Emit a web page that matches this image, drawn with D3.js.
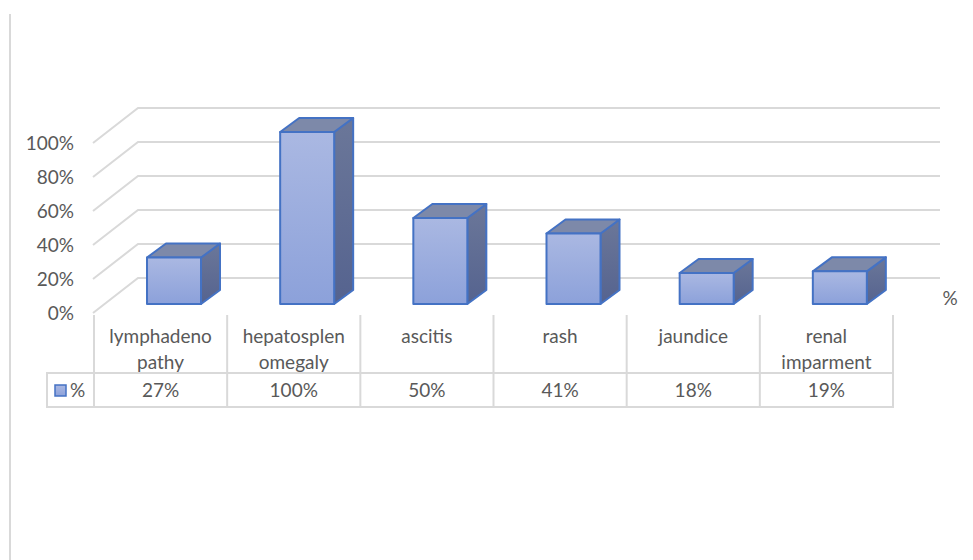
<!DOCTYPE html>
<html>
<head>
<meta charset="utf-8">
<script src="https://cdn.jsdelivr.net/npm/d3@7"></script>
<style>
  body { margin: 0; background: #fff; }
  svg text { font-family: Lato, "Open Sans", sans-serif; fill: #595959; }
</style>
</head>
<body>
<svg id="chart" width="973" height="560"></svg>
<script>
var categories = ["lymphadenopathy", "hepatosplenomegaly", "ascitis", "rash", "jaundice", "renal imparment"];
var catLines = [["lymphadeno", "pathy"], ["hepatosplen", "omegaly"], ["ascitis"], ["rash"], ["jaundice"], ["renal", "imparment"]];
var values = [0.27, 1.00, 0.50, 0.41, 0.18, 0.19];
var valueLabels = ["27%", "100%", "50%", "41%", "18%", "19%"];
var yTicks = [0, 0.2, 0.4, 0.6, 0.8, 1.0];
var seriesName = "%";

function makeBar3d() {
    var svg = d3.select("#chart");
    var fs = 19;
    var depthX = 45, depthY = 35;      // wall depth
    var barDX = 19, barDY = 14;        // bar depth

    var scX = d3.scaleBand().domain(d3.range(categories.length)).range([94, 893]);
    var scY = d3.scaleLinear().domain([0, 1]).range([313, 143]);      // front plane
    var scBar = d3.scaleLinear().domain([0, 1]).range([304, 132]);    // bar front face

    var defs = svg.append("defs");
    var gf = defs.append("linearGradient").attr("id", "gFront").attr("x1", 0).attr("y1", 0).attr("x2", 0).attr("y2", 1);
    gf.append("stop").attr("offset", "0%").attr("stop-color", "#aab8e2");
    gf.append("stop").attr("offset", "100%").attr("stop-color", "#8ca1da");
    var gs = defs.append("linearGradient").attr("id", "gSide").attr("x1", 0).attr("y1", 0).attr("x2", 0).attr("y2", 1);
    gs.append("stop").attr("offset", "0%").attr("stop-color", "#6b7799");
    gs.append("stop").attr("offset", "100%").attr("stop-color", "#55638f");

    // left border line
    svg.append("line").attr("x1", 10).attr("x2", 10).attr("y1", 14).attr("y2", 560)
        .attr("stroke", "#d9d9d9").attr("stroke-width", 2);

    // gridlines: diagonal side wall + back wall
    var grid = svg.append("g").attr("stroke", "#d9d9d9").attr("stroke-width", 2).attr("fill", "none");
    grid.selectAll("path").data(yTicks).enter().append("path")
        .attr("d", d => "M" + 93 + "," + scY(d) + "L" + (93 + depthX) + "," + (scY(d) - depthY) + "H940");

    // y tick labels
    svg.append("g").selectAll("text").data(yTicks).enter().append("text")
        .attr("x", 74).attr("y", d => scY(d) + 7)
        .attr("text-anchor", "end").style("font-size", fs + "px")
        .text(d => Math.round(d * 100) + "%");

    // series axis label
    svg.append("text").attr("x", 950).attr("y", 305).attr("text-anchor", "middle")
        .style("font-size", fs + "px").text(seriesName);

    // bars
    var bars = svg.append("g").selectAll("g").data(values).enter().append("g")
        .attr("stroke", "#4472c4").attr("stroke-width", 2).attr("stroke-linejoin", "round");
    var bw = 54;
    var x0 = (d, i) => scX(i) + 53;
    bars.append("path").attr("fill", "url(#gSide)")
        .attr("d", (d, i) => {
            var x = x0(d, i) + bw, yb = scBar(0), yt = scBar(d);
            return "M" + x + "," + yb + "L" + (x + barDX) + "," + (yb - barDY) + "L" + (x + barDX) + "," + (yt - barDY) + "L" + x + "," + yt + "Z";
        });
    bars.append("path").attr("fill", "#7d89a9")
        .attr("d", (d, i) => {
            var x = x0(d, i), yt = scBar(d);
            return "M" + x + "," + yt + "L" + (x + barDX) + "," + (yt - barDY) + "H" + (x + bw + barDX) + "L" + (x + bw) + "," + yt + "Z";
        });
    bars.append("rect").attr("fill", "url(#gFront)")
        .attr("x", x0).attr("y", d => scBar(d))
        .attr("width", bw).attr("height", d => scBar(0) - scBar(d));

    // data table
    var tbl = svg.append("g").attr("stroke", "#d9d9d9").attr("stroke-width", 2);
    var colEdges = d3.range(categories.length + 1).map(i => i < categories.length ? scX(i) : scX.range()[1]);
    tbl.selectAll("line.v").data(colEdges).enter().append("line")
        .attr("x1", d => d).attr("x2", d => d).attr("y1", 315).attr("y2", 407);
    tbl.append("line").attr("x1", 47).attr("x2", 47).attr("y1", 373).attr("y2", 407);
    tbl.append("line").attr("x1", 46).attr("x2", 894).attr("y1", 373).attr("y2", 373);
    tbl.append("line").attr("x1", 46).attr("x2", 894).attr("y1", 407).attr("y2", 407);

    var cx = i => scX(i) + scX.bandwidth() / 2;
    var labs = svg.append("g").selectAll("text").data(catLines).enter().append("text")
        .attr("text-anchor", "middle").style("font-size", fs + "px");
    labs.selectAll("tspan").data((d, i) => d.map(t => [t, i])).enter().append("tspan")
        .attr("x", d => cx(d[1])).attr("y", (d, j) => 343 + j * 26)
        .text(d => d[0]);

    svg.append("g").selectAll("text").data(valueLabels).enter().append("text")
        .attr("x", (d, i) => cx(i)).attr("y", 397)
        .attr("text-anchor", "middle").style("font-size", fs + "px")
        .text(d => d);

    // legend key in table
    svg.append("rect").attr("x", 55).attr("y", 385).attr("width", 11).attr("height", 11)
        .attr("fill", "url(#gFront)").attr("stroke", "#4472c4").attr("stroke-width", 1.5);
    svg.append("text").attr("x", 70).attr("y", 397).style("font-size", fs + "px").text(seriesName);
}
makeBar3d();
</script>
</body>
</html>
